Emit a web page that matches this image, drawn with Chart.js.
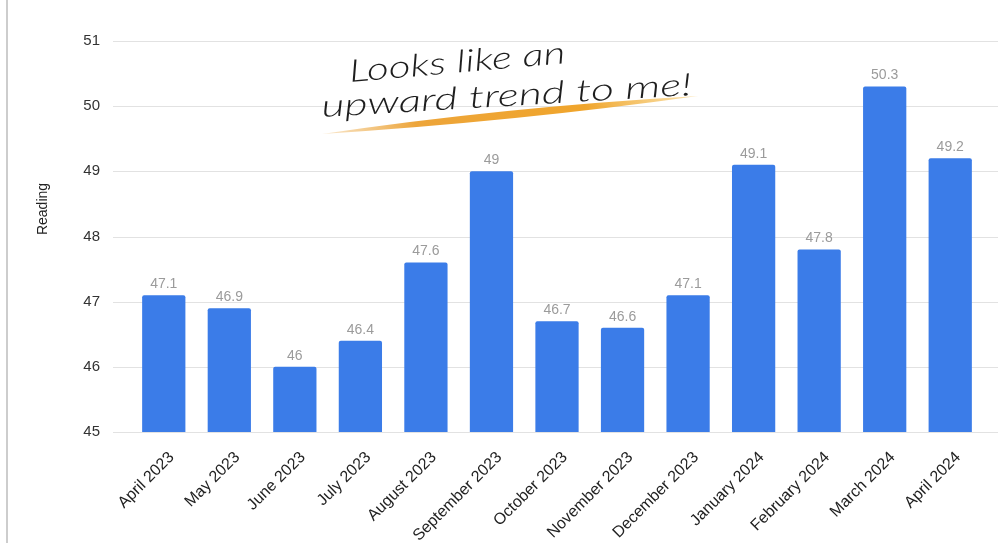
<!DOCTYPE html>
<html lang="en">
<head>
  <meta charset="UTF-8">
  <title>Reading by month</title>
  <style>
    html, body { margin: 0; padding: 0; background: #fff; }
    #wrap { width: 1004px; height: 543px; }
  </style>
</head>
<body>
  <div id="wrap"><canvas id="readingChart" width="1004" height="543"></canvas></div>

  <script src="https://cdn.jsdelivr.net/npm/chart.js"></script>
  <script>
    // data
    const months = [
      'April 2023', 'May 2023', 'June 2023', 'July 2023', 'August 2023',
      'September 2023', 'October 2023', 'November 2023', 'December 2023',
      'January 2024', 'February 2024', 'March 2024', 'April 2024'
    ];
    const readings = [47.1, 46.9, 46, 46.4, 47.6, 49, 46.7, 46.6, 47.1, 49.1, 47.8, 50.3, 49.2];
    const yTicks = [45, 46, 47, 48, 49, 50, 51];
    const axisTitle = 'Reading';
    const noteLines = ['Looks like an', 'upward trend to me!'];

    Chart.defaults.font.family = "'Liberation Sans', Arial, sans-serif";

    // thin grey frame line on the left edge of the screenshot
    const framePlugin = {
      id: 'frame',
      beforeDraw(chart) {
        const ctx = chart.ctx;
        ctx.save();
        ctx.strokeStyle = '#bdbdbd';
        ctx.lineWidth = 1.5;
        ctx.beginPath();
        ctx.moveTo(7, 0);
        ctx.lineTo(7, chart.height);
        ctx.stroke();
        ctx.restore();
      }
    };

    // horizontal grid lines run a bit wider than the bars
    const gridPlugin = {
      id: 'wideGrid',
      beforeDatasetsDraw(chart) {
        const { ctx, chartArea, scales } = chart;
        ctx.save();
        ctx.strokeStyle = '#e2e2e2';
        ctx.lineWidth = 1.2;
        yTicks.forEach(v => {
          const y = Math.round(scales.y.getPixelForValue(v)) + 0.5;
          ctx.beginPath();
          ctx.moveTo(chartArea.left - 18, y);
          ctx.lineTo(chartArea.right + 15, y);
          ctx.stroke();
        });
        ctx.restore();
      }
    };

    // value labels above the bars
    const valueLabels = {
      id: 'valueLabels',
      afterDatasetsDraw(chart) {
        const ctx = chart.ctx;
        const meta = chart.getDatasetMeta(0);
        ctx.save();
        ctx.fillStyle = '#9b9b9b';
        ctx.font = "14px 'Liberation Sans', Arial, sans-serif";
        ctx.textAlign = 'center';
        ctx.textBaseline = 'bottom';
        meta.data.forEach((bar, i) => {
          ctx.fillText(String(readings[i]), bar.x, bar.y - 4);
        });
        ctx.restore();
      }
    };

    // y axis title, sits a little above the middle of the plot
    const titlePlugin = {
      id: 'yTitle',
      afterDraw(chart) {
        const { ctx, chartArea } = chart;
        ctx.save();
        ctx.translate(chartArea.left - 88, chartArea.top + 168);
        ctx.rotate(-Math.PI / 2);
        ctx.fillStyle = '#222';
        ctx.font = "14px 'Liberation Sans', Arial, sans-serif";
        ctx.textAlign = 'center';
        ctx.textBaseline = 'middle';
        ctx.fillText(axisTitle, 0, 0);
        ctx.restore();
      }
    };

    // hand written note with the orange brush stroke
    const notePlugin = {
      id: 'note',
      afterDraw(chart) {
        const ctx = chart.ctx;
        ctx.save();

        // brush stroke
        const g = ctx.createLinearGradient(322, 133, 697, 96);
        g.addColorStop(0, 'rgba(236,170,70,0.25)');
        g.addColorStop(0.25, '#eda53a');
        g.addColorStop(0.7, '#f0a52c');
        g.addColorStop(1, 'rgba(245,195,90,0.5)');
        ctx.fillStyle = g;
        ctx.beginPath();
        ctx.moveTo(322, 134);
        ctx.quadraticCurveTo(505, 107, 698, 96);
        ctx.quadraticCurveTo(520, 121, 322, 134);
        ctx.fill();

        ctx.fillStyle = '#1e1e1e';
        ctx.font = "italic 300 31px Lato, 'DejaVu Sans', sans-serif";
        ctx.textBaseline = 'alphabetic';

        const lines = [
          { text: noteLines[0], x: 350, y: 82, w: 217, a: -5 },
          { text: noteLines[1], x: 322, y: 117, w: 371, a: -3.4 }
        ];
        lines.forEach(l => {
          const tw = ctx.measureText(l.text).width;
          ctx.save();
          ctx.translate(l.x, l.y);
          ctx.rotate(l.a * Math.PI / 180);
          ctx.scale(l.w / tw, 1);
          ctx.fillText(l.text, 0, 0);
          ctx.restore();
        });
        ctx.restore();
      }
    };

    new Chart(document.getElementById('readingChart'), {
      type: 'bar',
      data: {
        labels: months,
        datasets: [{
          label: axisTitle,
          data: readings,
          backgroundColor: '#3b7ce8',
          borderRadius: { topLeft: 2, topRight: 2 },
          borderSkipped: 'bottom',
          categoryPercentage: 1,
          barPercentage: 0.66
        }]
      },
      options: {
        responsive: false,
        animation: false,
        layout: { padding: { top: 41, right: 21, left: 0, bottom: 0 } },
        plugins: {
          legend: { display: false },
          tooltip: { enabled: false }
        },
        scales: {
          x: {
            grid: { display: false, drawTicks: false },
            border: { display: false },
            afterFit(scale) { scale.height = 111; },
            ticks: {
              minRotation: 45,
              maxRotation: 45,
              padding: 16,
              labelOffset: 8,
              color: '#222',
              font: { size: 16 }
            }
          },
          y: {
            min: 45,
            max: 51,
            grid: { display: false, drawTicks: false },
            border: { display: false },
            afterFit(scale) { scale.width = 131; },
            afterBuildTicks(scale) { scale.ticks = yTicks.map(v => ({ value: v })); },
            ticks: {
              padding: 31,
              color: '#333',
              font: { size: 15 }
            }
          }
        }
      },
      plugins: [framePlugin, gridPlugin, valueLabels, titlePlugin, notePlugin]
    });
  </script>
</body>
</html>
